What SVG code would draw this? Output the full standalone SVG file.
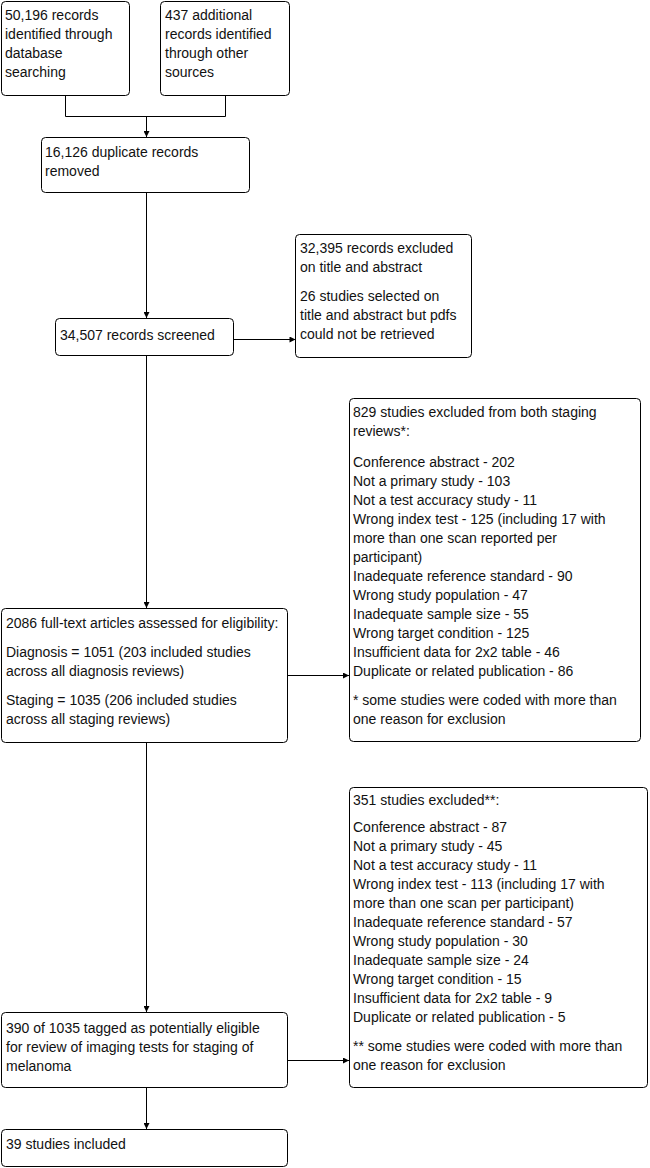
<svg xmlns="http://www.w3.org/2000/svg" width="650" height="1168" viewBox="0 0 650 1168">
<style>
.box{fill:#fff;stroke:#000;stroke-width:1}
text{font-family:"Liberation Sans",Arial,sans-serif;font-size:14px;fill:#111}
.c{fill:none;stroke:#000;stroke-width:1}
</style>
<defs>
<marker id="ah" viewBox="0 0 8 8" refX="8" refY="4" markerWidth="7" markerHeight="6" orient="auto" markerUnits="userSpaceOnUse">
<path d="M0,0 L8,4 L0,8 z" fill="#000"/>
</marker>
</defs>
<rect width="650" height="1168" fill="#fff"/>
<g id="connectors">
<path class="c" d="M65.5,96 V116.5 H225.5 V96"/>
<path class="c" d="M146.5,116.5 V137" marker-end="url(#ah)"/>
<path class="c" d="M146.5,193 V318" marker-end="url(#ah)"/>
<path class="c" d="M234,339.5 H295.5" marker-end="url(#ah)"/>
<path class="c" d="M146.5,355 V608" marker-end="url(#ah)"/>
<path class="c" d="M288,675.5 H349" marker-end="url(#ah)"/>
<path class="c" d="M146.5,742 V1012" marker-end="url(#ah)"/>
<path class="c" d="M288,1060.5 H349" marker-end="url(#ah)"/>
<path class="c" d="M146.5,1088 V1129" marker-end="url(#ah)"/>
</g>
<g id="n1">
<rect class="box" x="1.5" y="1.5" width="128" height="94" rx="4"/>
<text x="5" y="20">50,196 records</text>
<text x="5" y="39">identified through</text>
<text x="5" y="58">database</text>
<text x="5" y="77">searching</text>
</g>
<g id="n2">
<rect class="box" x="160.5" y="1.5" width="129" height="94" rx="4"/>
<text x="165" y="20">437 additional</text>
<text x="165" y="39">records identified</text>
<text x="165" y="58">through other</text>
<text x="165" y="77">sources</text>
</g>
<g id="n3">
<rect class="box" x="41.5" y="137.5" width="208" height="55" rx="4"/>
<text x="45" y="157">16,126 duplicate records</text>
<text x="45" y="176">removed</text>
</g>
<g id="n4">
<rect class="box" x="295.5" y="234.5" width="176" height="123" rx="4"/>
<text x="300" y="253">32,395 records excluded</text>
<text x="300" y="272">on title and abstract</text>
<text x="300" y="301">26 studies selected on</text>
<text x="300" y="320">title and abstract but pdfs</text>
<text x="300" y="339">could not be retrieved</text>
</g>
<g id="n5">
<rect class="box" x="55.5" y="318.5" width="178" height="37" rx="4"/>
<text x="60" y="340">34,507 records screened</text>
</g>
<g id="n6">
<rect class="box" x="349.5" y="398.5" width="291" height="343" rx="4"/>
<text x="353" y="417">829 studies excluded from both staging</text>
<text x="353" y="436">reviews*:</text>
<text x="353" y="467">Conference abstract - 202</text>
<text x="353" y="486">Not a primary study - 103</text>
<text x="353" y="505">Not a test accuracy study - 11</text>
<text x="353" y="524">Wrong index test - 125 (including 17 with</text>
<text x="353" y="543">more than one scan reported per</text>
<text x="353" y="562">participant)</text>
<text x="353" y="581">Inadequate reference standard - 90</text>
<text x="353" y="600">Wrong study population - 47</text>
<text x="353" y="619">Inadequate sample size - 55</text>
<text x="353" y="638">Wrong target condition - 125</text>
<text x="353" y="657">Insufficient data for 2x2 table - 46</text>
<text x="353" y="676">Duplicate or related publication - 86</text>
<text x="353" y="705">* some studies were coded with more than</text>
<text x="353" y="724">one reason for exclusion</text>
</g>
<g id="n7">
<rect class="box" x="1.5" y="608.5" width="286" height="134" rx="4"/>
<text x="6" y="628">2086 full-text articles assessed for eligibility:</text>
<text x="6" y="657">Diagnosis = 1051 (203 included studies</text>
<text x="6" y="676">across all diagnosis reviews)</text>
<text x="6" y="705">Staging = 1035 (206 included studies</text>
<text x="6" y="724">across all staging reviews)</text>
</g>
<g id="n8">
<rect class="box" x="349.5" y="787.5" width="298" height="300" rx="4"/>
<text x="353" y="805">351 studies excluded**:</text>
<text x="353" y="832">Conference abstract - 87</text>
<text x="353" y="851">Not a primary study - 45</text>
<text x="353" y="870">Not a test accuracy study - 11</text>
<text x="353" y="889">Wrong index test - 113 (including 17 with</text>
<text x="353" y="908">more than one scan per participant)</text>
<text x="353" y="927">Inadequate reference standard - 57</text>
<text x="353" y="946">Wrong study population - 30</text>
<text x="353" y="965">Inadequate sample size - 24</text>
<text x="353" y="984">Wrong target condition - 15</text>
<text x="353" y="1003">Insufficient data for 2x2 table - 9</text>
<text x="353" y="1022">Duplicate or related publication - 5</text>
<text x="353" y="1051">** some studies were coded with more than</text>
<text x="353" y="1070">one reason for exclusion</text>
</g>
<g id="n9">
<rect class="box" x="1.5" y="1012.5" width="286" height="75" rx="4"/>
<text x="6" y="1033">390 of 1035 tagged as potentially eligible</text>
<text x="6" y="1052">for review of imaging tests for staging of</text>
<text x="6" y="1071">melanoma</text>
</g>
<g id="n10">
<rect class="box" x="1.5" y="1129.5" width="286" height="37" rx="4"/>
<text x="6" y="1149">39 studies included</text>
</g>
</svg>
